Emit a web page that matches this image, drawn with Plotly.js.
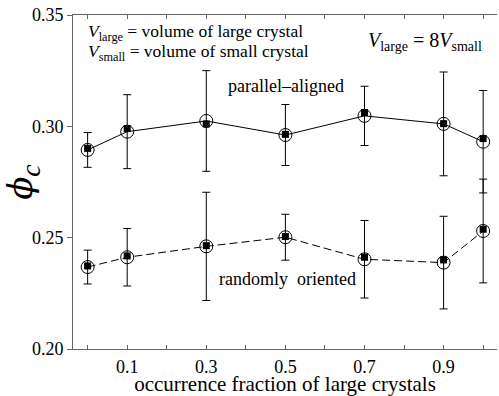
<!DOCTYPE html>
<html>
<head>
<meta charset="utf-8">
<script src="https://cdn.plot.ly/plotly-3.0.1.min.js"></script>
<style>html,body{margin:0;padding:0;background:#fff;}#chart{width:499px;height:396px;}</style>
</head>
<body>
<div id="chart"></div>
<script>
// occurrence fraction of large crystals
const frac = [0, 0.1, 0.3, 0.5, 0.7, 0.9, 1.0];
// parallel-aligned series
const parCircle = [0.2894, 0.2976, 0.3024, 0.2961, 0.3047, 0.3011, 0.2931];
const parSquare = [0.2901, 0.2990, 0.3011, 0.2964, 0.3062, 0.3012, 0.2945];
const parErr    = [0.0078, 0.0166, 0.0226, 0.0137, 0.0133, 0.0233, 0.0230];
// randomly oriented series
const rndCircle = [0.2368, 0.2412, 0.2461, 0.2502, 0.2403, 0.2388, 0.2530];
const rndSquare = [0.2373, 0.2418, 0.2464, 0.2505, 0.2412, 0.2400, 0.2538];
const rndErr    = [0.0076, 0.0129, 0.0243, 0.0103, 0.0174, 0.0208, 0.0233];
// ticks
const xTickVals = [0.1, 0.3, 0.5, 0.7, 0.9];
const xTickText = ['0.1', '0.3', '0.5', '0.7', '0.9'];
const xMinorVals = [0, 0.2, 0.4, 0.6, 0.8, 1.0];
const yTickVals = [0.20, 0.25, 0.30, 0.35];
const yTickText = ['0.20', '0.25', '0.30', '0.35'];

const serif = 'Liberation Serif';
const axisCol = '#666666';

function circleTrace(y, err, dash) {
  return {
    x: frac, y: y, type: 'scatter', mode: 'lines+markers',
    line: {color: '#000', width: 1, dash: dash},
    marker: {symbol: 'circle-open', size: 13, color: '#000', line: {width: 1, color: '#000'}},
    error_y: {type: 'data', array: err, visible: true, color: '#000', thickness: 1, width: 4},
    showlegend: false, hoverinfo: 'skip'
  };
}
function squareTrace(y) {
  return {
    x: frac, y: y, type: 'scatter', mode: 'markers',
    marker: {symbol: 'square', size: 7, color: '#000'},
    showlegend: false, hoverinfo: 'skip'
  };
}

const data = [
  circleTrace(parCircle, parErr, 'solid'),
  squareTrace(parSquare),
  circleTrace(rndCircle, rndErr, '8px,4px'),
  squareTrace(rndSquare)
];

const layout = {
  width: 499, height: 396,
  margin: {l: 73, r: 2, t: 15, b: 47},
  paper_bgcolor: '#fff', plot_bgcolor: '#fff',
  font: {family: serif, color: '#000', size: 18},
  xaxis: {
    range: [-0.037, 1.035],
    tickvals: xTickVals, ticktext: xTickText,
    ticks: 'inside', ticklen: 4, tickcolor: axisCol, tickwidth: 1,
    minor: {tickvals: xMinorVals, ticks: 'inside', ticklen: 4, tickcolor: axisCol, tickwidth: 1, showgrid: false},
    showline: true, linecolor: axisCol, linewidth: 1, mirror: 'ticks',
    showgrid: false, zeroline: false,
    ticklabelstandoff: 1,
    tickfont: {family: serif, size: 18, color: '#000'},
    title: {text: 'occurrence fraction of large crystals', font: {family: serif, size: 21, color: '#000'}, standoff: 6}
  },
  yaxis: {
    range: [0.2, 0.35],
    tickvals: yTickVals, ticktext: yTickText,
    ticks: 'outside', ticklen: 5, tickcolor: axisCol, tickwidth: 1,
    showline: true, linecolor: axisCol, linewidth: 1,
    showgrid: false, zeroline: false,
    tickfont: {family: serif, size: 18, color: '#000'},
    title: {text: '<span style="font-family:DejaVu Serif;font-size:34px"><i>ϕ</i></span><sub><i>c</i></sub>',
            font: {family: serif, size: 40, color: '#000'}, standoff: 6}
  },
  yaxis2: {
    range: [0.2, 0.35], overlaying: 'y', side: 'right',
    tickvals: yTickVals, ticks: 'inside', ticklen: 4, tickcolor: axisCol,
    showticklabels: false, showline: true, linecolor: axisCol, linewidth: 1,
    showgrid: false, zeroline: false
  },
  annotations: [
    {xref: 'paper', yref: 'paper', x: 0.031, y: 0.949, xanchor: 'left', yanchor: 'middle', showarrow: false,
     text: '<i>V</i><sub>large</sub> = volume of large crystal', font: {family: serif, size: 17.5, color: '#000'}},
    {xref: 'paper', yref: 'paper', x: 0.031, y: 0.889, xanchor: 'left', yanchor: 'middle', showarrow: false,
     text: '<i>V</i><sub>small</sub> = volume of small crystal', font: {family: serif, size: 17.5, color: '#000'}},
    {xref: 'paper', yref: 'paper', x: 0.969, y: 0.922, xanchor: 'right', yanchor: 'middle', showarrow: false,
     text: '<i>V</i><sub>large</sub> = 8<i>V</i><sub>small</sub>', font: {family: serif, size: 20, color: '#000'}},
    {xref: 'paper', yref: 'paper', x: 0.502, y: 0.787, xanchor: 'center', yanchor: 'middle', showarrow: false,
     text: 'parallel–aligned', font: {family: serif, size: 18, color: '#000'}},
    {xref: 'paper', yref: 'paper', x: 0.507, y: 0.21, xanchor: 'center', yanchor: 'middle', showarrow: false,
     text: 'randomly&nbsp;&nbsp;oriented', font: {family: serif, size: 18, color: '#000'}}
  ]
};

Plotly.newPlot('chart', data, layout, {displayModeBar: false, staticPlot: true});
</script>
</body>
</html>
